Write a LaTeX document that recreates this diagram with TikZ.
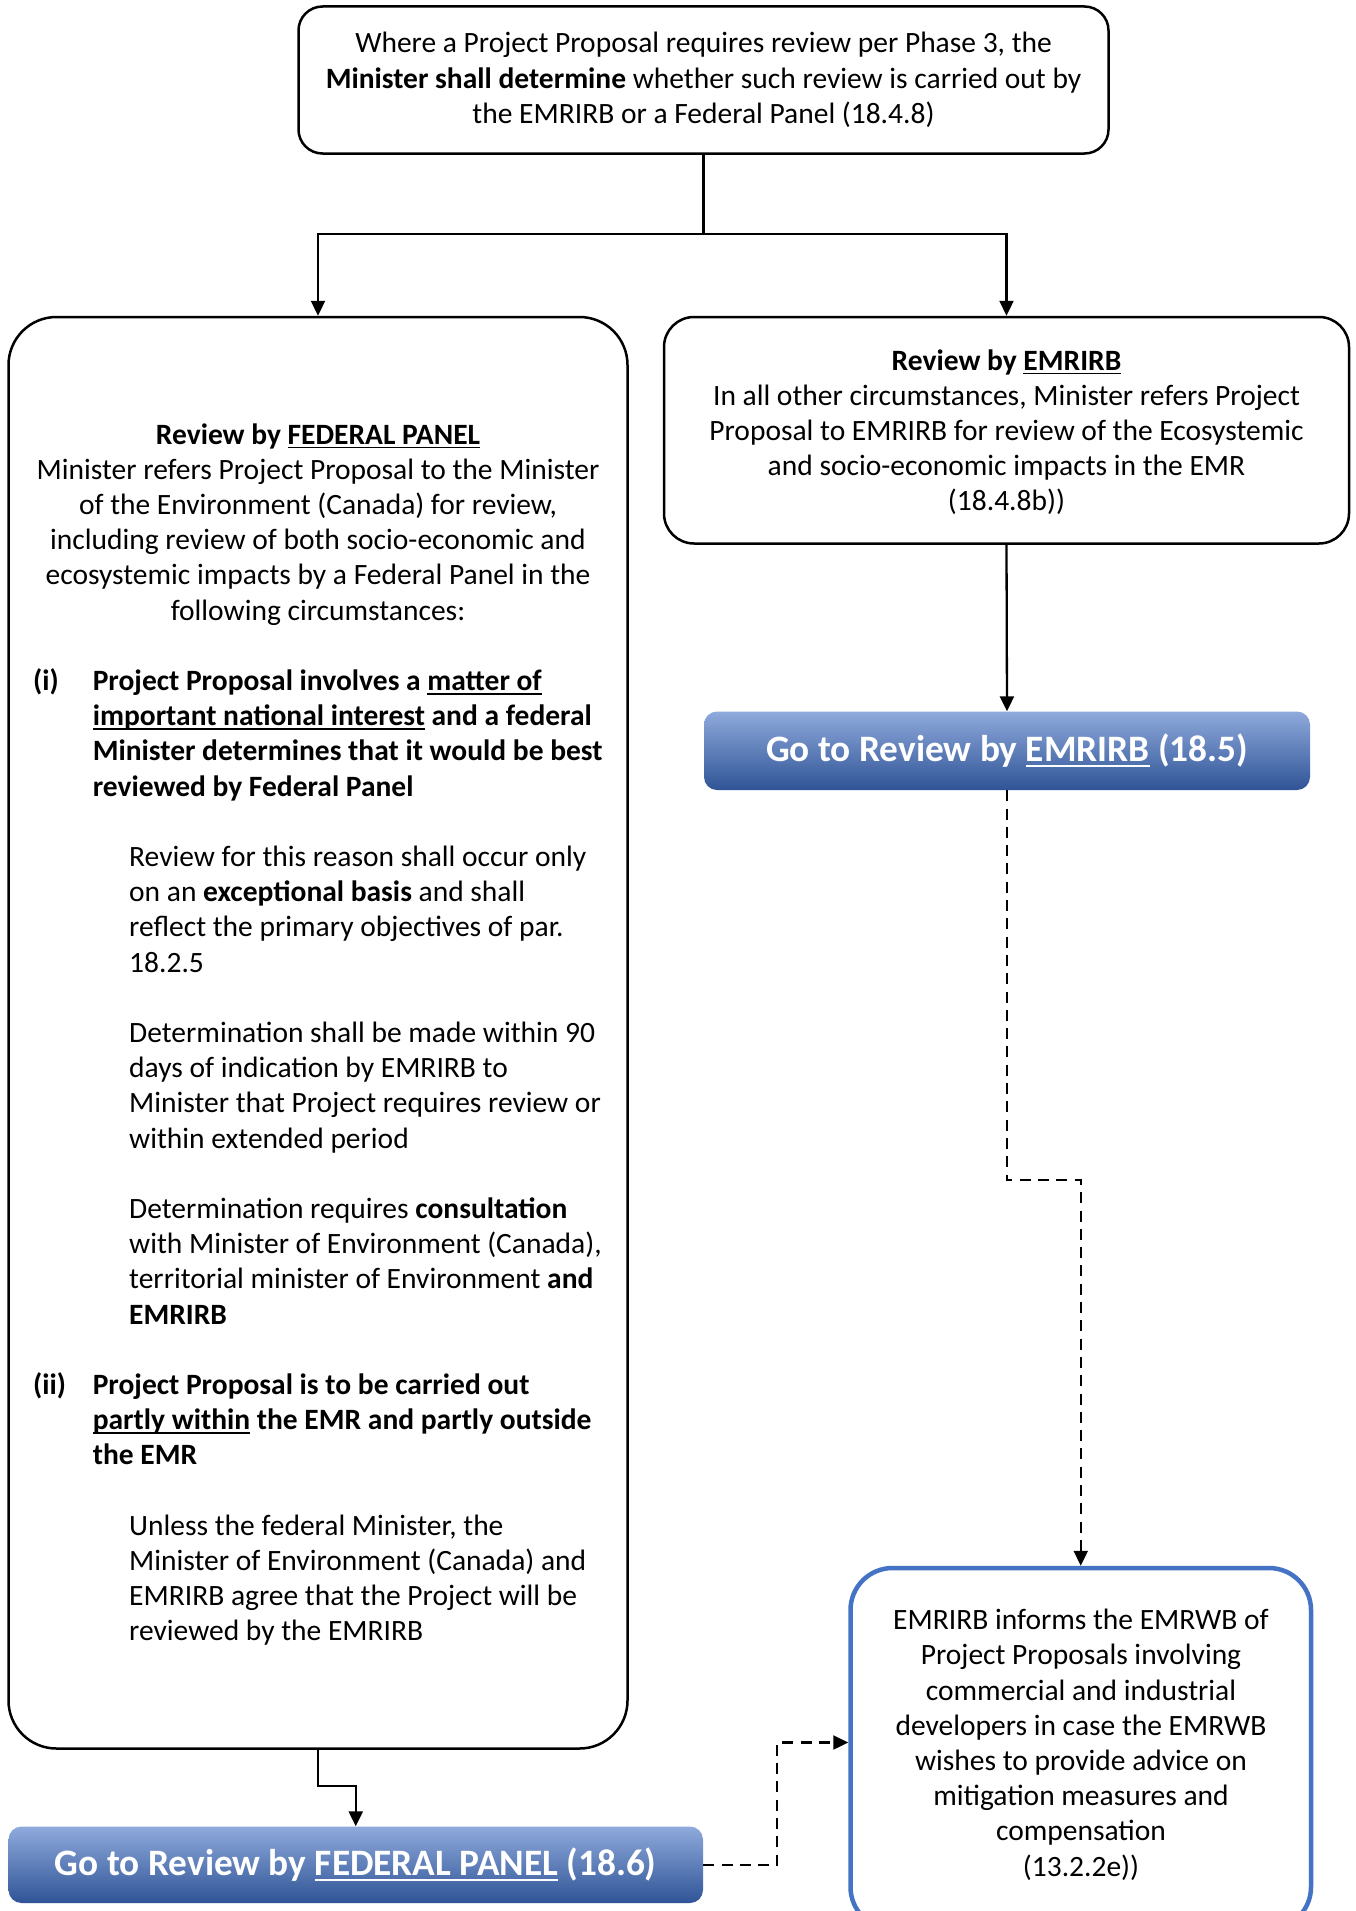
\documentclass[tikz,border=0pt]{standalone}
\usepackage{fontspec}
\setmainfont{Carlito}
\usetikzlibrary{arrows.meta}
\definecolor{bluetop}{HTML}{8FAADC}
\definecolor{bluemid}{HTML}{4A76C6}
\definecolor{bluebot}{HTML}{2F5496}
\definecolor{blueline}{HTML}{4472C4}
\newcommand\myul[1]{\leavevmode\setbox0\hbox{#1}\rlap{\rule[-0.15em]{\wd0}{0.065em}}\box0\relax}
\newcommand\bodyfont{\fontsize{29.5}{35.2}\selectfont}
\newcommand\bigfont{\fontsize{37.3}{44}\selectfont\bfseries\color{white}}
\tikzset{
  box/.style={draw, line width=2.5pt, inner sep=0pt},
  bluebox/.style={rounded corners=13pt, top color=bluetop, middle color=bluemid, bottom color=bluebot, inner sep=0pt, font=\bigfont},
  txt/.style={inner sep=0pt, font=\bodyfont},
  conn/.style={line width=2.3pt},
  arrow/.style={conn, -{Triangle[length=15pt,width=14pt]}},
  dasharrow/.style={conn, dash pattern=on 11pt off 7.3pt, -{Triangle[length=15pt,width=14pt]}}
}
\begin{document}
\begin{tikzpicture}[x=1pt,y=-1pt]
\clip (0,0) rectangle (1355,1911);
\fill[white] (0,0) rectangle (1355,1911);

% boxes
\node[box, rounded corners=24pt, minimum width=810pt, minimum height=147pt, align=center, font=\bodyfont] (top) at (703.5,80)
  {Where a Project Proposal requires review per Phase 3, the\\ \textbf{Minister shall determine} whether such review is carried out by\\ the EMRIRB or a Federal Panel (18.4.8)};

\node[box, rounded corners=48pt, minimum width=619pt, minimum height=1431.5pt] (left) at (318,1032.75) {};

\node[box, rounded corners=30pt, minimum width=685pt, minimum height=226.5pt] (right) at (1006.5,430.25) {};
\node[txt, anchor=base, text width=680pt, align=flush center] (rt) at (1006.5,370)
  {\textbf{Review by \myul{EMRIRB}}\\ In all other circumstances, Minister refers Project\\ Proposal to EMRIRB for review of the Ecosystemic\\ and socio-economic impacts in the EMR\\ (18.4.8b))};

\node[bluebox, minimum width=606pt, minimum height=78.5pt] (emr) at (1007,750.75)
  {Go to Review by \myul{EMRIRB} (18.5)};

\node[bluebox, minimum width=694.5pt, minimum height=76.5pt] (fed) at (355.75,1864.75)
  {Go to Review by \myul{FEDERAL PANEL} (18.6)};

\node[draw=blueline, line width=4.5pt, rounded corners=42pt, inner sep=0pt, minimum width=460.5pt, minimum height=361pt] (wb) at (1080.75,1748.5) {};

% texts inside left box
\node[txt, anchor=base, text width=610pt, align=flush center] (t0) at (318,444)
  {\textbf{Review by \myul{FEDERAL PANEL}}\\ Minister refers Project Proposal to the Minister\\ of the Environment (Canada) for review,\\ including review of both socio-economic and\\ ecosystemic impacts by a Federal Panel in the\\ following circumstances:};

\node[txt, anchor=base west] (li) at (33,690.4) {\textbf{(i)}};
\node[txt, anchor=base west, text width=530pt, align=flush left] (ti) at (92.6,690.4)
  {\textbf{Project Proposal involves a \myul{matter of}}\\ \textbf{\myul{important national interest} and a federal}\\ \textbf{Minister determines that it would be best}\\ \textbf{reviewed by Federal Panel}};

\node[txt, anchor=base west, text width=495pt, align=flush left] (s1) at (129,866.4)
  {Review for this reason shall occur only\\ on an \textbf{exceptional basis} and shall\\ reflect the primary objectives of par.\\ 18.2.5};

\node[txt, anchor=base west, text width=495pt, align=flush left] (s2) at (129,1042.4)
  {Determination shall be made within 90\\ days of indication by EMRIRB to\\ Minister that Project requires review or\\ within extended period};

\node[txt, anchor=base west, text width=495pt, align=flush left] (s3) at (129,1218.4)
  {Determination requires \textbf{consultation}\\ with Minister of Environment (Canada),\\ territorial minister of Environment \textbf{and}\\ \textbf{EMRIRB}};

\node[txt, anchor=base west] (lii) at (33,1394.4) {\textbf{(ii)}};
\node[txt, anchor=base west, text width=530pt, align=flush left] (tii) at (92.6,1394.4)
  {\textbf{Project Proposal is to be carried out}\\ \textbf{\myul{partly within} the EMR and partly outside}\\ \textbf{the EMR}};

\node[txt, anchor=base west, text width=495pt, align=flush left] (s4) at (129,1535.2)
  {Unless the federal Minister, the\\ Minister of Environment (Canada) and\\ EMRIRB agree that the Project will be\\ reviewed by the EMRIRB};

% text in EMRWB box
\node[txt, anchor=base, text width=450pt, align=flush center] (wbt) at (1081,1629.6)
  {EMRIRB informs the EMRWB of\\ Project Proposals involving\\ commercial and industrial\\ developers in case the EMRWB\\ wishes to provide advice on\\ mitigation measures and\\ compensation\\ (13.2.2e))};

% connectors
\coordinate (split) at (703.5,234);
\draw[conn] (top.south) -- (split);
\draw[arrow] (split) -| (left.north);
\draw[arrow] (split) -| (right.north);
\draw[arrow] (right.south) -- (emr.north);
\draw[dasharrow] (emr.south) -- ++(0,390) -| (wb.north);
\draw[arrow] (left.south) -- ++(0,36.5) -| (fed.north);
\draw[dasharrow] (fed.east) -- ++(74,0) |- ([yshift=6pt]wb.west);
\end{tikzpicture}
\end{document}
